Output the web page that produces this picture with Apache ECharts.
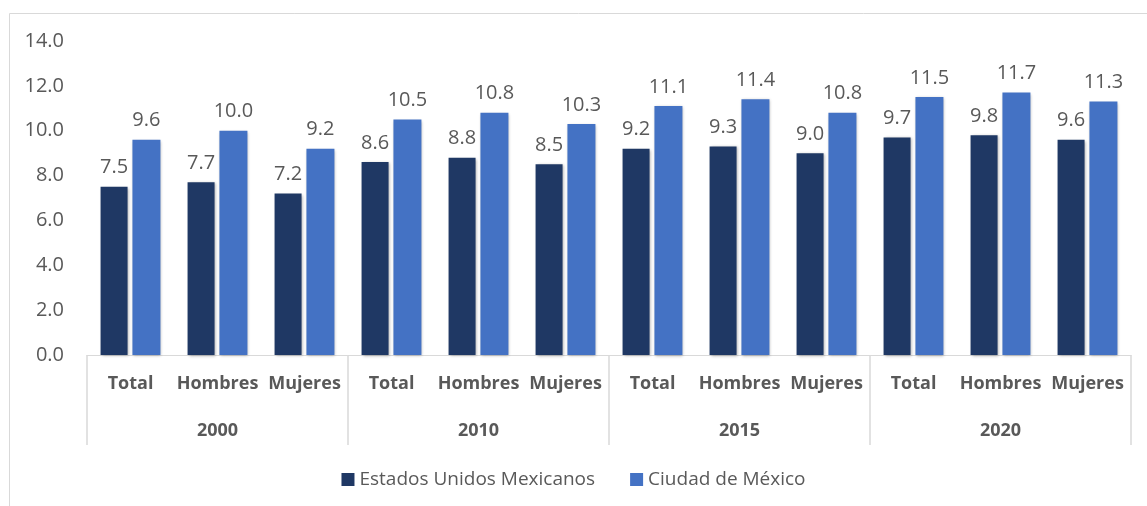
<!DOCTYPE html>
<html>
<head>
<meta charset="utf-8">
<script src="https://cdn.jsdelivr.net/npm/echarts@6/dist/echarts.min.js"></script>
<style>
html,body{margin:0;padding:0;background:#fff;}
#c{width:1147px;height:506px;}
</style>
</head>
<body>
<div id="c"></div>
<script>
const categories = ['Total','Hombres','Mujeres','Total','Hombres','Mujeres','Total','Hombres','Mujeres','Total','Hombres','Mujeres'];
const years = ['2000','2010','2015','2020'];
const seriesNames = ['Estados Unidos Mexicanos','Ciudad de México'];
const nacional = [7.5,7.7,7.2,8.6,8.8,8.5,9.2,9.3,9.0,9.7,9.8,9.6];
const cdmx = [9.6,10.0,9.2,10.5,10.8,10.3,11.1,11.4,10.8,11.5,11.7,11.3];
const yTicks = [0,2,4,6,8,10,12,14];

const FONT = 'Open Sans';
const TXT = '#595959';
const chart = echarts.init(document.getElementById('c'));
const labelStyle = {show:true, position:'top', distance:9, fontFamily:FONT, fontSize:20, color:TXT, formatter:p=>p.value.toFixed(1)};
const shadow = {shadowBlur:3, shadowColor:'rgba(0,0,0,0.3)', shadowOffsetX:1, shadowOffsetY:1};
chart.setOption({
  animation:false,
  textStyle:{fontFamily:FONT},
  graphic:[{type:'rect', shape:{x:9.5,y:13.5,width:1200,height:600}, style:{fill:'none', stroke:'#D9D9D9', lineWidth:1}, silent:true, z:-10}],
  grid:{left:87, right:16, top:41, bottom:151},
  legend:{
    data:seriesNames, bottom:12, left:'center', itemWidth:13, itemHeight:13, itemGap:35,
    icon:'rect', textStyle:{fontFamily:FONT, fontSize:19, color:TXT}
  },
  xAxis:[
    {type:'category', data:categories, position:'bottom',
     axisLine:{show:true, lineStyle:{color:'#D9D9D9'}}, axisTick:{show:false},
     axisLabel:{interval:0, margin:20, fontFamily:FONT, fontSize:18, fontWeight:'bold', color:TXT}},
    {type:'category', data:years, position:'bottom',
     axisLine:{show:false}, axisTick:{show:true, length:90, lineStyle:{color:'#D9D9D9', width:1.5}},
     axisLabel:{interval:0, margin:67, fontFamily:FONT, fontSize:18, fontWeight:'bold', color:TXT}}
  ],
  yAxis:{type:'value', min:yTicks[0], max:yTicks[yTicks.length-1], interval:2,
    axisLine:{show:false}, axisTick:{show:false}, splitLine:{show:false},
    axisLabel:{margin:23, fontFamily:FONT, fontSize:20, color:TXT, formatter:v=>v.toFixed(1)}},
  series:[
    {name:seriesNames[0], type:'bar', data:nacional, xAxisIndex:0, barWidth:27, barGap:'18%',
     itemStyle:Object.assign({color:'#1F3864'}, shadow), label:labelStyle},
    {name:seriesNames[1], type:'bar', data:cdmx, xAxisIndex:0, barWidth:28,
     itemStyle:Object.assign({color:'#4472C4'}, shadow), label:labelStyle}
  ]
});
</script>
</body>
</html>
